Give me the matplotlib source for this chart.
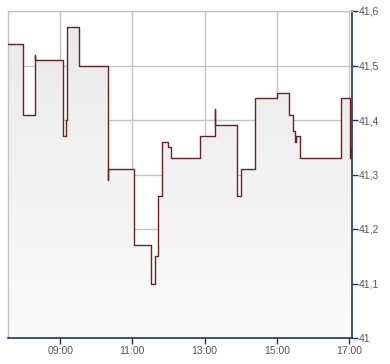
import matplotlib
matplotlib.use("Agg")
import matplotlib.pyplot as plt
import numpy as np
from matplotlib.patches import Polygon

times = ["07:33", "07:59", "08:19", "08:19", "09:05", "09:09", "09:12", "09:31",
         "10:19", "10:19", "11:03", "11:31", "11:37", "11:42", "11:50", "11:59",
         "12:05", "12:52", "13:18", "13:18", "13:54", "14:01", "14:24", "15:00",
         "15:21", "15:27", "15:31", "15:32", "15:39", "16:46", "17:02", "17:04"]
prices = [41.54, 41.41, 41.52, 41.51, 41.37, 41.40, 41.57, 41.50,
          41.29, 41.31, 41.17, 41.10, 41.15, 41.26, 41.36, 41.35,
          41.33, 41.37, 41.42, 41.39, 41.26, 41.31, 41.44, 41.45,
          41.41, 41.38, 41.36, 41.37, 41.33, 41.44, 41.33, 41.35]
x_ticks = [9, 11, 13, 15, 17]
x_labels = ["09:00", "11:00", "13:00", "15:00", "17:00"]
y_ticks = [41.0, 41.1, 41.2, 41.3, 41.4, 41.5, 41.6]
y_labels = ["41", "41,1", "41,2", "41,3", "41,4", "41,5", "41,6"]

def to_h(s):
    h, m = s.split(":")
    return int(h) + int(m) / 60.0

x = np.array([to_h(t) for t in times])
y = np.array(prices)

xmin, xmax = 7.556, 17.083
ymin, ymax = 41.0, 41.6

fig = plt.figure(figsize=(3.9, 3.64), dpi=100)
ax = fig.add_axes([8 / 390, 26 / 364, 344 / 390, 327 / 364])
ax.set_xlim(xmin, xmax)
ax.set_ylim(ymin, ymax)

# step path for fill
xs = [x[0]]
ys = [y[0]]
for i in range(1, len(x)):
    xs += [x[i], x[i]]
    ys += [y[i - 1], y[i]]
xs.append(xmax)
ys.append(y[-1])
poly = list(zip(xs, ys)) + [(xmax, ymin), (x[0], ymin)]

grad = np.linspace(0, 1, 256).reshape(-1, 1)
cmap = matplotlib.colors.LinearSegmentedColormap.from_list("g", ["#fbfbfb", "#e9e9e9"])
im = ax.imshow(grad, extent=[xmin, xmax, ymin, ymax], origin="lower", aspect="auto",
               cmap=cmap, zorder=1)
patch = Polygon(poly, closed=True, facecolor="none", edgecolor="none")
ax.add_patch(patch)
im.set_clip_path(patch)

ax.step(x, y, where="post", color="#6e1f26", lw=1.0, zorder=3)

ax.set_xticks(x_ticks)
ax.set_xticklabels(x_labels)
ax.set_yticks(y_ticks)
ax.set_yticklabels(y_labels)
ax.grid(True, color="#c4c4c4", lw=1.0, zorder=0)
ax.set_axisbelow(True)

ax.yaxis.tick_right()
for lab in ax.get_xticklabels() + ax.get_yticklabels():
    lab.set_fontfamily("Liberation Sans")
    lab.set_fontsize(7.5)
    lab.set_color("#555555")
ax.tick_params(axis="y", direction="out", length=4, width=1, color="#1d3461", pad=1)
ax.tick_params(axis="x", direction="out", length=4, width=1, color="#1d3461", pad=2)

for s in ["left", "top"]:
    ax.spines[s].set_color("#c4c4c4")
    ax.spines[s].set_linewidth(1)
for s in ["right", "bottom"]:
    ax.spines[s].set_color("#1d3461")
    ax.spines[s].set_linewidth(1.2)

fig.savefig("out.png", dpi=100)
